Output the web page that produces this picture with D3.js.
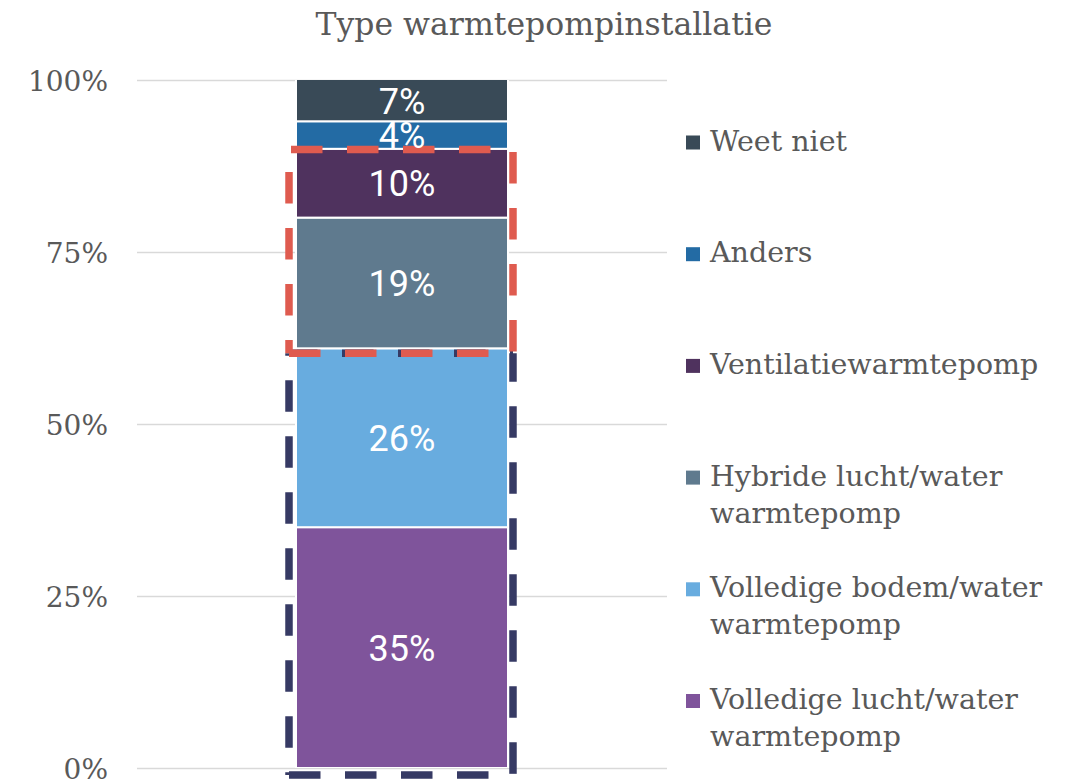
<!DOCTYPE html>
<html><head><meta charset="utf-8">
<script src="https://cdn.jsdelivr.net/npm/d3@7"></script>
<style>body{margin:0;background:#fff}svg{display:block}</style>
</head><body>
<script>
const categories = ["Volledige lucht/water warmtepomp","Volledige bodem/water warmtepomp","Hybride lucht/water warmtepomp","Ventilatiewarmtepomp","Anders","Weet niet"];
const legendLines = [["Volledige lucht/water","warmtepomp"],["Volledige bodem/water","warmtepomp"],["Hybride lucht/water","warmtepomp"],["Ventilatiewarmtepomp"],["Anders"],["Weet niet"]];
const values = [35,26,19,10,4,7];
const colors = ["#7f549b","#68acdf","#5f7a8e","#4f325e","#236ba4","#394a57"];
const yTicks = [0,25,50,75,100];
const title = "Type warmtepompinstallatie";
const redRange = [61,90];
const navyRange = [0,61];

(function(){
const W=1072,H=782;
const svg=d3.select("body").append("svg").attr("width",W).attr("height",H);
const serif="'DejaVu Serif', serif";
const pL=137,pR=667,pT=80,pB=768;
const y=d3.scaleLinear().domain([0,100]).range([pB,pT]);
const x=d3.scaleBand().domain(["all"]).range([pL,pR]).padding(0.4286);

svg.append("text").attr("x",544).attr("y",35).attr("text-anchor","middle")
 .attr("font-family",serif).attr("font-size",31.5).attr("fill","#595959").text(title);

const ax=svg.append("g").attr("transform",`translate(${pL},0)`)
 .call(d3.axisLeft(y).tickValues(yTicks).tickSize(-(pR-pL)).tickFormat(d=>d+"%"));
ax.select(".domain").remove();
ax.selectAll(".tick line").attr("stroke","#d9d9d9").attr("stroke-width",1.5);
ax.selectAll(".tick text").attr("x",-29).attr("dy","0.36em").attr("font-family",serif)
 .attr("font-size",28).attr("fill","#595959");

let acc=0;
const segs=values.map((v,i)=>{const s={i,v,y0:acc,y1:acc+v};acc+=v;return s;});
svg.append("defs").append("clipPath").attr("id","clip").append("rect")
 .attr("x",0).attr("y",y(100)).attr("width",W).attr("height",y(0)-y(100));
const g=svg.append("g").attr("clip-path","url(#clip)");
g.selectAll("rect").data(segs).join("rect")
 .attr("x",x("all")).attr("width",x.bandwidth())
 .attr("y",d=>y(d.y1)).attr("height",d=>y(d.y0)-y(d.y1))
 .attr("fill",d=>colors[d.i]).attr("stroke","#fff").attr("stroke-width",2);

function dashLine(x1,y1,x2,y2,color,off){
 svg.append("line").attr("x1",x1).attr("y1",y1).attr("x2",x2).attr("y2",y2)
  .attr("stroke",color).attr("stroke-width",7.5).attr("stroke-dasharray","31.5,24.5").attr("stroke-dashoffset",off);
}
const bx0=x("all")-7, bx1=x("all")+x.bandwidth()+5;
const navy="#363a64", red="#df5b4f";
{
 const t=y(navyRange[1])+5, b=y(navyRange[0])+7;
 dashLine(bx0,t,bx1,t,navy,3);
 dashLine(bx0,t,bx0,b,navy,-27);
 dashLine(bx1,t,bx1,b,navy,3);
 dashLine(bx0,b,bx1,b,navy,0);
}
{
 const t=y(redRange[1])+0.7, b=y(redRange[0])+5;
 dashLine(bx0,t,bx1,t,red,-2);
 dashLine(bx1,t,bx1,b,red,-2.5);
 dashLine(bx0,t,bx0,b,red,-22.5);
 dashLine(bx0,b,bx1,b,red,0);
}

svg.selectAll("text.lbl").data(segs).join("text").attr("class","lbl")
 .attr("x",x("all")+x.bandwidth()/2)
 .attr("y",d=>(y(Math.min(d.y1,100))+y(d.y0))/2)
 .attr("dy","0.36em").attr("text-anchor","middle")
 .attr("font-family","Roboto, sans-serif").attr("font-size",36).attr("fill","#fff")
 .text(d=>d.v+"%");

const order=d3.range(categories.length).reverse();
const lg=svg.append("g");
order.forEach((ci,k)=>{
 const base=150.5+k*111.7;
 lg.append("rect").attr("x",686).attr("y",base-15).attr("width",14).attr("height",14).attr("fill",colors[ci]);
 const t=lg.append("text").attr("x",710).attr("y",base).attr("font-family",serif).attr("font-size",28.5).attr("fill","#595959");
 legendLines[ci].forEach((ln,j)=>t.append("tspan").attr("x",710).attr("y",base+j*37).text(ln));
});
})();
</script>
</body></html>
